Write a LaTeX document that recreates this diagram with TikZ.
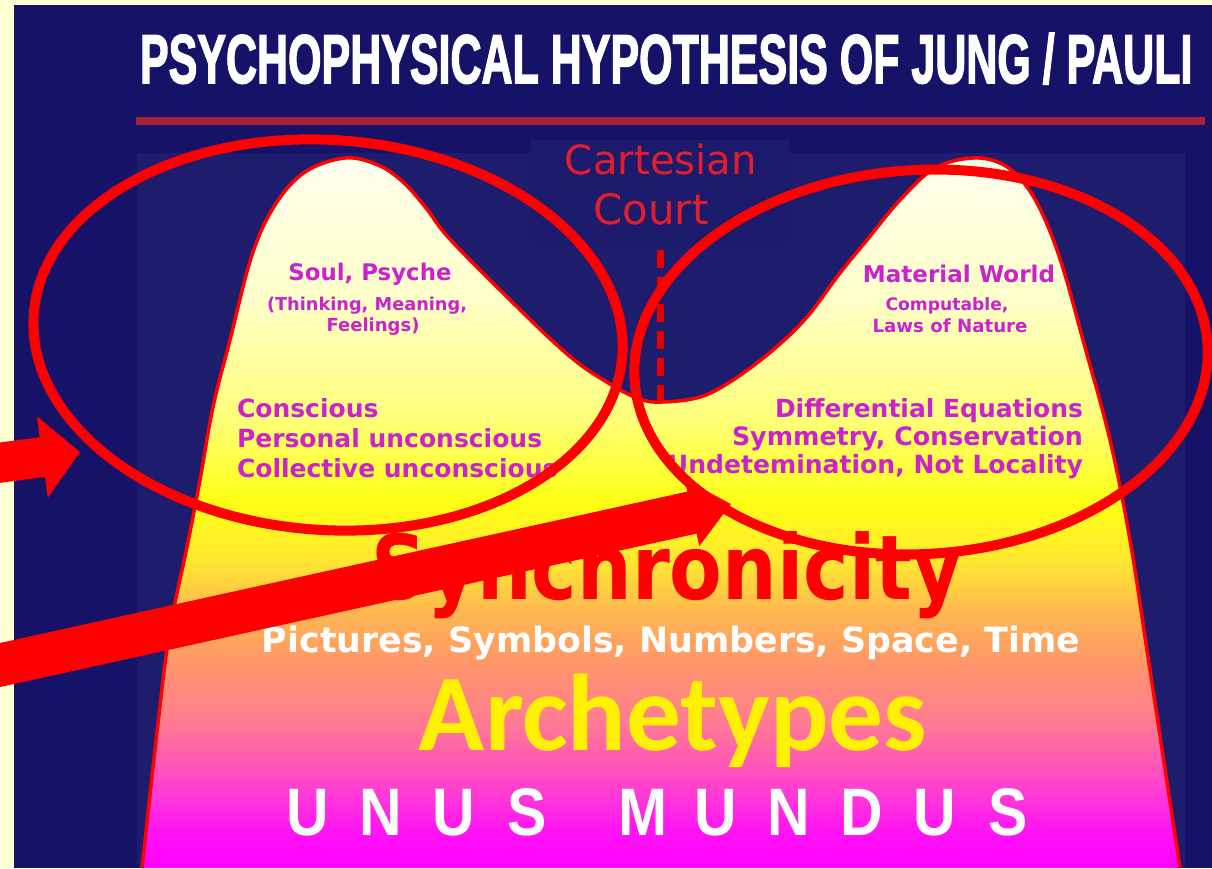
\documentclass[tikz,border=0pt]{standalone}
\usepackage{fontspec}
\usetikzlibrary{arrows.meta}
\newfontfamily\dvs{DejaVu Sans}
\newfontfamily\libs{Liberation Sans}
\newfontfamily\titlefont{Liberation Sans}[BoldFeatures={FakeBold=2.5}]
\newfontfamily\carl{Carlito}
\definecolor{cream}{RGB}{255,255,214}
\definecolor{navy}{RGB}{22,18,104}
\definecolor{panel}{RGB}{30,28,108}
\definecolor{courtbox}{RGB}{28,26,106}
\definecolor{rulered}{RGB}{168,32,60}
\definecolor{purp}{RGB}{204,34,204}
\definecolor{cartred}{RGB}{226,30,44}
\definecolor{g1}{HTML}{FFFFF2}
\definecolor{g2}{HTML}{FFFFC8}
\definecolor{g3}{HTML}{FFFF78}
\definecolor{g4}{HTML}{FFFF14}
\definecolor{g5}{HTML}{FFE830}
\definecolor{g6}{HTML}{FFB850}
\definecolor{g7}{HTML}{FF9868}
\definecolor{g8}{HTML}{FF7C90}
\definecolor{g9}{HTML}{FF48C8}
\definecolor{g10}{HTML}{FF14F4}
\definecolor{g11}{HTML}{FF00FF}
\newcommand{\fitw}[2]{\resizebox{#1pt}{!}{#2}}
\def\mountainpath{plot[smooth,tension=0.6] coordinates {(142,868) (163,680) (173,613) (187,547) (200,480) (213,407) (230,340) (252,255) (275,205) (305,172) (345,158) (378,165) (403,182) (426,208) (448,237) (500,290) (567,354) (610,384) (640,399) (662,402) (700,397) (733,380) (773,350) (807,317) (840,273) (867,240) (900,200) (935,168) (973,158) (1002,164) (1024,183) (1043,215) (1062,265) (1083,340) (1110,440) (1130,540) (1147,650) (1180,868)}}
\tikzset{
  txt/.style={inner sep=0pt, outer sep=0pt},
  purpb/.style={txt, text=purp, font=\dvs\bfseries},
  hiell/.style={draw=red, line width=10pt},
  unus/.style={txt, anchor=base, text=white, font=\libs\bfseries\fontsize{64}{64}\selectfont},
}
\begin{document}
\begin{tikzpicture}[x=1pt,y=-1pt]
\useasboundingbox (0,0) rectangle (1212,868);
% backgrounds
\fill[cream] (0,0) rectangle (1212,868);
\fill[navy] (14,5) rectangle (1212,868);
\fill[panel] (137,153) rectangle (1185,868);
\fill[courtbox] (530,140) rectangle (790,245);
% title and rule
\node[txt, anchor=base west, text=white] (title) at (140,83)
  {\resizebox{1052pt}{50pt}{\titlefont\bfseries PSYCHOPHYSICAL HYPOTHESIS OF JUNG / PAULI}};
\coordinate (ruleL) at (136,121);
\coordinate (ruleR) at (1205,121);
\draw[rulered, line width=8pt] (ruleL) -- (ruleR);
% mountain fill
\begin{scope}
  \clip \mountainpath -- cycle;
  \shade[top color=g1, bottom color=g2] (130,150) rectangle (1200,301);
  \shade[top color=g2, bottom color=g3] (130,300) rectangle (1200,421);
  \shade[top color=g3, bottom color=g4] (130,420) rectangle (1200,501);
  \shade[top color=g4, bottom color=g5] (130,500) rectangle (1200,561);
  \shade[top color=g5, bottom color=g6] (130,560) rectangle (1200,611);
  \shade[top color=g6, bottom color=g7] (130,610) rectangle (1200,661);
  \shade[top color=g7, bottom color=g8] (130,660) rectangle (1200,721);
  \shade[top color=g8, bottom color=g9] (130,720) rectangle (1200,781);
  \shade[top color=g9, bottom color=g10] (130,780) rectangle (1200,831);
  \shade[top color=g10, bottom color=g11] (130,830) rectangle (1200,870);
\end{scope}
\draw[red, line width=3.5pt, line join=round] \mountainpath;
% Cartesian court
\coordinate (dashT) at (660,250);
\coordinate (dashB) at (660,400);
\draw[red!90!black, line width=7pt, dash pattern=on 18pt off 9pt] (dashT) -- (dashB);
\node[txt, anchor=base, text=cartred] (cart) at (661,174) {\fitw{192}{\dvs Cartesian}};
\node[txt, anchor=base, text=cartred] (court) at (651,224) {\fitw{115}{\dvs Court}};
% left texts
\node[purpb, anchor=base] (soul) at (370,280) {\fitw{163}{Soul, Psyche}};
\node[purpb, anchor=base] (think) at (367,310) {\fitw{200}{(Thinking, Meaning,}};
\node[purpb, anchor=base] (feel) at (373,331) {\fitw{93}{Feelings)}};
\node[purpb, anchor=base west, font=\dvs\bfseries\fontsize{25}{25}\selectfont] (consc) at (237,417) {Conscious};
\node[purpb, anchor=base west, font=\dvs\bfseries\fontsize{25}{25}\selectfont] (pers) at (237,447) {Personal unconscious};
\node[purpb, anchor=base west, font=\dvs\bfseries\fontsize{25}{25}\selectfont] (coll) at (237,477) {Collective unconscious};
% right texts
\node[purpb, anchor=base] (mat) at (959,282) {\fitw{192}{Material World}};
\node[purpb, anchor=base] (comp) at (947,310) {\fitw{123}{Computable,}};
\node[purpb, anchor=base] (laws) at (950,332) {\fitw{155}{Laws of Nature}};
\node[purpb, anchor=base east] (diff) at (1083,417) {\fitw{308}{Differential Equations}};
\node[purpb, anchor=base east] (sym) at (1083,445) {\fitw{351}{Symmetry, Conservation}};
\node[purpb, anchor=base east] (undet) at (1083,473) {\fitw{415}{Undetemination, Not Locality}};
% lower texts
\node[txt, anchor=base, text=red] (sync) at (667,599) {\resizebox{590pt}{68pt}{\dvs\bfseries Synchronicity}};
\node[txt, anchor=base, text=white] (pict) at (671,652) {\fitw{818}{\dvs\bfseries Pictures, Symbols, Numbers, Space, Time}};
\node[txt, anchor=base, text=yellow] (arch) at (673,750) {\fitw{508}{\carl\bfseries Archetypes}};
\foreach \ch/\xx [count=\i] in {U/308,N/381,U/454,S/527,M/643,U/716,N/789,D/862,U/935,S/1008}
  \node[unus] (u\i) at (\xx,835) {\scalebox{0.92}[1.05]{\ch}};
% highlight ellipses
\draw[hiell, rotate around={-4:(328,335)}] (328,335) ellipse [x radius=295, y radius=195];
\draw[hiell, rotate around={3.5:(921,362)}] (921,362) ellipse [x radius=287, y radius=192];
% arrows
\coordinate (a1s) at (-10,464);
\coordinate (a1t) at (80,452);
\draw[red, line width=40pt, -{Triangle[length=38pt,width=80pt]}] (a1s) -- (a1t);
\coordinate (a2s) at (-20,669.4);
\coordinate (a2t) at (731,504);
\draw[red, line width=43pt, -{Triangle[length=40pt,width=66pt]}] (a2s) -- (a2t);
\end{tikzpicture}
\end{document}
